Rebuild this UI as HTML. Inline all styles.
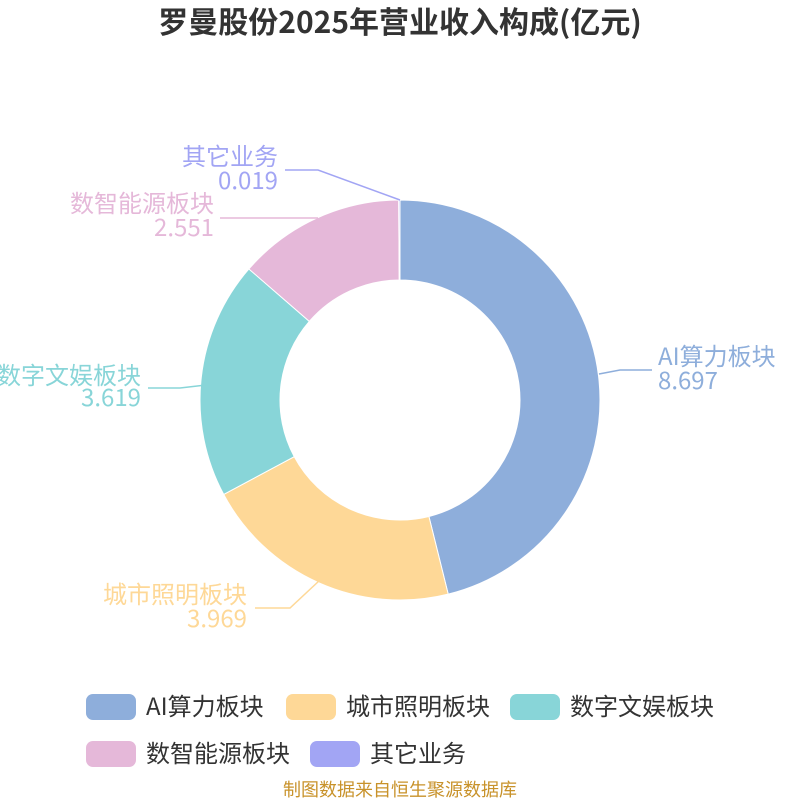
<!DOCTYPE html>
<html><head><meta charset="utf-8"><style>
body{margin:0;width:800px;height:800px;background:#fff;overflow:hidden;font-family:"Noto Sans CJK SC","Liberation Sans",sans-serif;}
svg text{font-family:"Noto Sans CJK SC","Liberation Sans",sans-serif;}
</style></head><body>
<svg id="s" width="800" height="800" xmlns="http://www.w3.org/2000/svg">
<text x="400" y="33" text-anchor="middle" font-size="30" font-weight="bold" fill="#333">罗曼股份2025年营业收入构成(亿元)</text>
<g id="pie"></g>
<polyline points="400,200 318,170 285,170" fill="none" stroke="#a2a5f4" stroke-width="1.5"/>
<polyline points="318,218 220,218" fill="none" stroke="#e5b8d9" stroke-width="1.5"/>
<polyline points="206,385 180,388 148,388" fill="none" stroke="#88d5d8" stroke-width="1.5"/>
<polyline points="599,374 620,370 652,370" fill="none" stroke="#8eaedb" stroke-width="1.5"/>
<polyline points="320,580 290,608 255,608" fill="none" stroke="#fed897" stroke-width="1.5"/>
<g font-size="24">
<text x="278" y="165" text-anchor="end" fill="#a2a5f4">其它业务</text>
<text x="278" y="189" text-anchor="end" fill="#a2a5f4">0.019</text>
<text x="214" y="212" text-anchor="end" fill="#e5b8d9">数智能源板块</text>
<text x="214" y="236" text-anchor="end" fill="#e5b8d9">2.551</text>
<text x="141" y="384" text-anchor="end" fill="#88d5d8">数字文娱板块</text>
<text x="141" y="406" text-anchor="end" fill="#88d5d8">3.619</text>
<text x="658" y="365" fill="#8eaedb">AI算力板块</text>
<text x="658" y="389" fill="#8eaedb">8.697</text>
<text x="247" y="603" text-anchor="end" fill="#fed897">城市照明板块</text>
<text x="247" y="627" text-anchor="end" fill="#fed897">3.969</text>
</g>
<g font-size="24" fill="#333">
<rect x="86" y="694" width="50" height="26" rx="7" fill="#8eaedb"/><text x="146" y="715">AI算力板块</text>
<rect x="286" y="694" width="50" height="26" rx="7" fill="#fed897"/><text x="346" y="715">城市照明板块</text>
<rect x="510" y="694" width="50" height="26" rx="7" fill="#88d5d8"/><text x="570" y="715">数字文娱板块</text>
<rect x="86" y="741" width="50" height="26" rx="7" fill="#e5b8d9"/><text x="146" y="762">数智能源板块</text>
<rect x="310" y="741" width="50" height="26" rx="7" fill="#a2a5f4"/><text x="370" y="762">其它业务</text>
</g>
<text x="400" y="796" text-anchor="middle" font-size="18" fill="#c8922a">制图数据来自恒生聚源数据库</text>
</svg>
<script>
var d=[[8.697,"#8eaedb"],[3.969,"#fed897"],[3.619,"#88d5d8"],[2.551,"#e5b8d9"],[0.019,"#a2a5f4"]];
var t=0;d.forEach(function(x){t+=x[0];});
var a=-Math.PI/2,cx=400,cy=400,R=200,r=120,h="";
function p(rad,ang){return (cx+rad*Math.cos(ang)).toFixed(2)+","+(cy+rad*Math.sin(ang)).toFixed(2);}
d.forEach(function(x){var b=a+x[0]/t*2*Math.PI;var l=(b-a)>Math.PI?1:0;
h+='<path d="M'+p(R,a)+' A200,200 0 '+l+' 1 '+p(R,b)+' L'+p(r,b)+' A120,120 0 '+l+' 0 '+p(r,a)+' Z" fill="'+x[1]+'" stroke="#fff" stroke-width="1"/>';a=b;});
document.getElementById("pie").innerHTML=h;
</script>
</body></html>
